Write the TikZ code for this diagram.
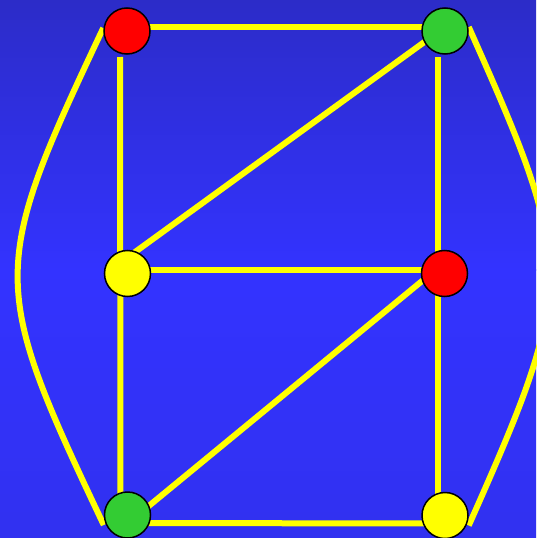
\documentclass[tikz,border=0pt]{standalone}
\definecolor{bgtop}{RGB}{44,44,200}
\definecolor{bgmid}{RGB}{51,51,255}
\definecolor{bgbot}{RGB}{49,49,240}
\definecolor{lineyellow}{RGB}{255,255,0}
\definecolor{vred}{RGB}{255,0,0}
\definecolor{vgreen}{RGB}{51,204,51}
\definecolor{vyellow}{RGB}{255,255,0}
\pgfdeclarelayer{back}
\pgfsetlayers{back,main}

\begin{document}
\begin{tikzpicture}[x=1pt, y=-1pt,
    vertex/.style={circle, draw=black, line width=1.5pt, minimum size=46pt, inner sep=0pt},
    edge/.style={draw=lineyellow, line width=6pt}]
    % 背景
    \useasboundingbox (0,0) rectangle (536,538);
    \begin{pgfonlayer}{back}
        \shade[top color=bgtop, bottom color=bgmid] (0,0) rectangle (536,270);
        \shade[top color=bgmid, bottom color=bgbot] (0,269.5) rectangle (536,538);
    \end{pgfonlayer}

    % 顶点
    \node[vertex, fill=vred]    (topL) at (127,31)    {};
    \node[vertex, fill=vgreen]  (topR) at (445,31)    {};
    \node[vertex, fill=vyellow] (midL) at (127.5,273.5) {};
    \node[vertex, fill=vred]    (midR) at (444.5,273.5) {};
    \node[vertex, fill=vgreen]  (botL) at (127.5,515) {};
    \node[vertex, fill=vyellow] (botR) at (445,515.5) {};

    \begin{pgfonlayer}{back}
        % 横边
        \draw[edge] ([yshift=4pt]topL.center) -- ([yshift=4pt]topR.center);
        \draw[edge] ([yshift=4pt]midL.center) -- ([yshift=4pt]midR.center);
        \draw[edge] ([yshift=-8pt]botL.center) -- ([yshift=-8pt]botR.center);

        % 竖边
        \draw[edge] ([xshift=-7pt, yshift=-26pt]topL.center) -- ([xshift=-7pt]botL.center);
        \draw[edge] ([xshift=-7.5pt, yshift=-26pt]topR.center) -- ([xshift=-7.5pt]botR.center);

        % 斜边
        \draw[edge] ([yshift=4pt]topR.center) -- ([yshift=16pt]midL.center);
        \draw[edge] ([yshift=11pt]midR.center) -- ([yshift=-8.5pt]botL.center);

        % 两侧曲线
        \draw[edge] ([yshift=3pt]topL.west) .. controls (-11,270) and (-11,283) .. ([yshift=-10pt]botL.west);
        \draw[edge] ([yshift=4pt]topR.east) .. controls (576,268) and (576,284) .. ([yshift=-10pt]botR.east);
    \end{pgfonlayer}
\end{tikzpicture}
\end{document}
